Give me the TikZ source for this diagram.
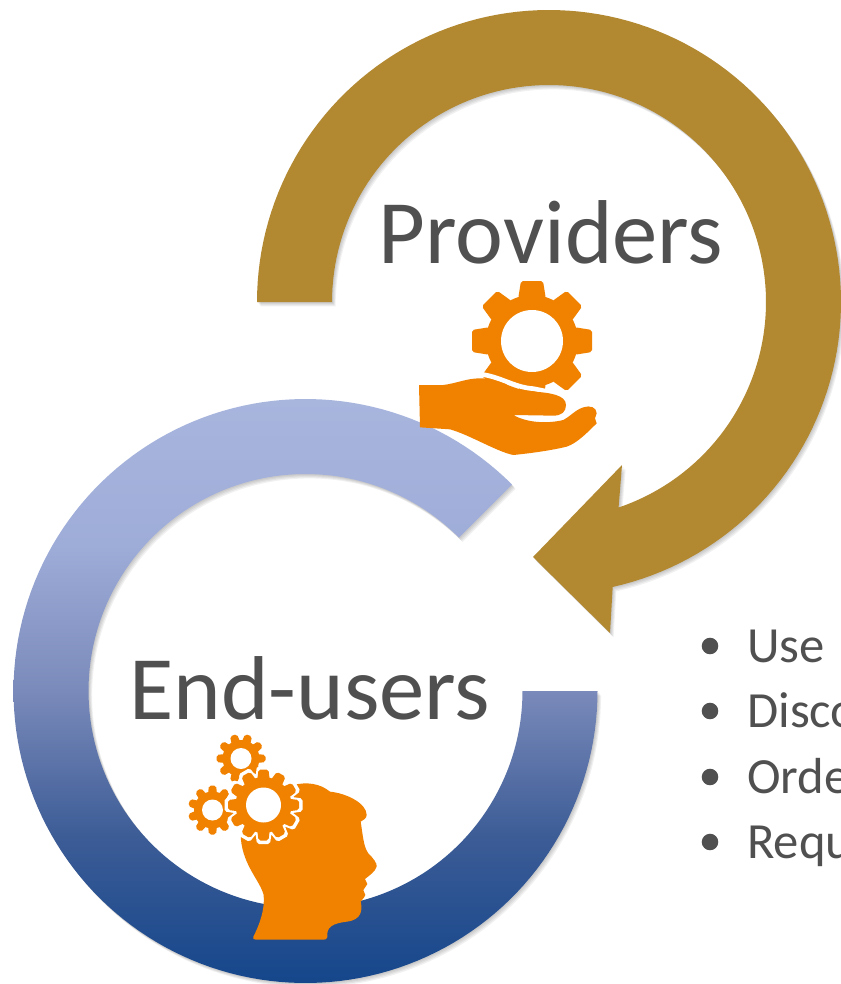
\documentclass[tikz,border=0pt]{standalone}
\usepackage{fontspec}
\setmainfont{Carlito}
\definecolor{gold}{HTML}{B28830}
\definecolor{iconorange}{HTML}{F08200}
\definecolor{txtgrey}{HTML}{505050}
\definecolor{ringA}{HTML}{15468B}
\definecolor{ringB}{HTML}{3C5C96}
\definecolor{ringC}{HTML}{7A8ABA}
\definecolor{ringD}{HTML}{9EACD8}
\definecolor{ringE}{HTML}{A8B6DE}
\pgfdeclareverticalshading{ringshade}{100bp}{
 color(0bp)=(ringA);
 color(25bp)=(ringA);
 color(37.5bp)=(ringB);
 color(50bp)=(ringC);
 color(62.5bp)=(ringD);
 color(75bp)=(ringE);
 color(100bp)=(ringE)}
\tikzset{
 shadowcopy/.style={fill=black,opacity=.055},
 iconfill/.style={fill=iconorange},
 bigword/.style={font=\fontsize{68}{68}\selectfont,text=txtgrey,inner sep=0pt},
 listword/.style={font=\fontsize{38}{38}\selectfont,text=txtgrey,inner sep=0pt,anchor=base west},
 bulletdot/.style={circle,fill=txtgrey,inner sep=0pt,minimum size=12.4pt},
}
% closed ring paths (y axis points down, angles run clockwise on screen)
\def\provpath{plot[domain=180:437.4,samples=130] ({549+292*cos(\x)},{302+292*sin(\x)})
 -- (610,633) -- (533,557) -- (622,465)
 -- plot[domain=431.3:180,samples=130] ({549+217*cos(\x)},{302+217*sin(\x)}) -- cycle}
\def\userpath{plot[domain=0:315,samples=160] ({305.5+292*cos(\x)},{691+292*sin(\x)})
 -- plot[domain=315:0,samples=160] ({305.5+217*cos(\x)},{691+217*sin(\x)}) -- cycle}
% gear: centre x, centre y, body radius, tip radius, hole radius, teeth, tooth half width, start angle
\newcommand{\gearteeth}[9][iconfill]{%
 \begin{scope}[shift={(#2,#3)}]
  \fill[#1] (0,0) circle[radius=#4];
  \pgfmathsetmacro{\gstep}{360/#7}
  \foreach \gi in {1,...,#7}{
   \fill[#1,rounded corners=1.5pt,rotate=\gi*\gstep+#9]
     (#4-3,-#8*1.25) -- (#5,-#8) -- (#5,#8) -- (#4-3,#8*1.25) -- cycle;
  }
  \fill[white] (0,0) circle[radius=#6];
 \end{scope}}
\begin{document}
\begin{tikzpicture}[x=0.75pt,y=-0.75pt]
\useasboundingbox (0,0) rectangle (841,984);
\clip (0,0) rectangle (841,984);
\fill[white] (0,0) rectangle (841,984);
% blue ring
\foreach \s in {1,2,3,4}{
 \begin{scope}[shift={(\s*0.9,\s*1.1)}]
  \fill[shadowcopy] \userpath;
 \end{scope}}
\path[shading=ringshade] \userpath;
% gold ring
\foreach \s in {1,2,3,4}{
 \begin{scope}[shift={(\s*0.9,\s*1.1)}]
  \fill[shadowcopy] \provpath;
 \end{scope}}
\fill[gold] \provpath;
% titles
\node[bigword,anchor=base] (prov) at (551,263) {Providers};
\node[bigword,anchor=base] (user) at (310,719) {End-users};
% list
\foreach \n/\yy/\tt in {a/662/Use,b/727/Disco,c/793/Orde,d/858/Requ}{
 \node[bulletdot] (dot\n) at (710,\yy-16) {};
 \node[listword] (item\n) at (747,\yy) {\tt};
}
% provider icon
\gearteeth{532}{341}{46}{60}{31}{8}{11}{0}
\begin{scope}[shift={(400,270)},scale=1/3]
 \draw[white,line width=3.5pt] (235,312) .. controls (300,318) and (340,352) .. (400,356) -- (480,372);
 \fill[iconfill] (57,345) -- (130,345) .. controls (170,340) and (200,325) .. (240,325)
  .. controls (300,325) and (340,362) .. (400,365)
  .. controls (450,368) and (498,375) .. (498,405)
  .. controls (498,425) and (485,437) .. (460,437) -- (340,435)
  .. controls (380,458) and (440,462) .. (490,450)
  .. controls (510,440) and (525,420) .. (550,412)
  .. controls (570,405) and (590,412) .. (590,430) -- (585,445) -- (590,460)
  .. controls (560,490) and (530,520) .. (500,530)
  .. controls (450,542) and (390,550) .. (340,555)
  .. controls (290,545) and (210,495) .. (150,478)
  -- (60,472) -- cycle;
\end{scope}
% head icon
\begin{scope}[shift={(170,720)},scale=1/3]
 \fill[iconfill] (250,650) .. controls (268,615) and (285,570) .. (281,525)
  .. controls (270,480) and (212,430) .. (212,340)
  -- (370,195) .. controls (410,185) and (450,190) .. (480,215)
  .. controls (530,220) and (590,250) .. (590,285)
  .. controls (590,295) and (580,300) .. (572,305)
  .. controls (578,340) and (580,380) .. (595,400)
  .. controls (610,415) and (622,430) .. (620,440)
  .. controls (615,455) and (600,465) .. (585,477)
  -- (592,492) -- (580,510) -- (586,525) .. controls (582,535) and (575,540) .. (572,545)
  .. controls (578,570) and (575,600) .. (530,605)
  .. controls (490,610) and (468,620) .. (472,652)
  .. controls (470,658) and (465,659) .. (460,659) -- (258,659)
  .. controls (250,659) and (248,655) .. (250,650) -- cycle;
\end{scope}
\gearteeth{241}{758.5}{18.5}{24.5}{10.5}{10}{3.6}{0}
\gearteeth{212.5}{810}{18.5}{24.5}{10.5}{10}{3.6}{18}
\gearteeth[fill=white]{263.5}{805}{31}{39}{17.5}{12}{6.5}{0}
\gearteeth{263.5}{805}{28}{35.5}{17.5}{12}{5}{0}
\end{tikzpicture}
\end{document}
